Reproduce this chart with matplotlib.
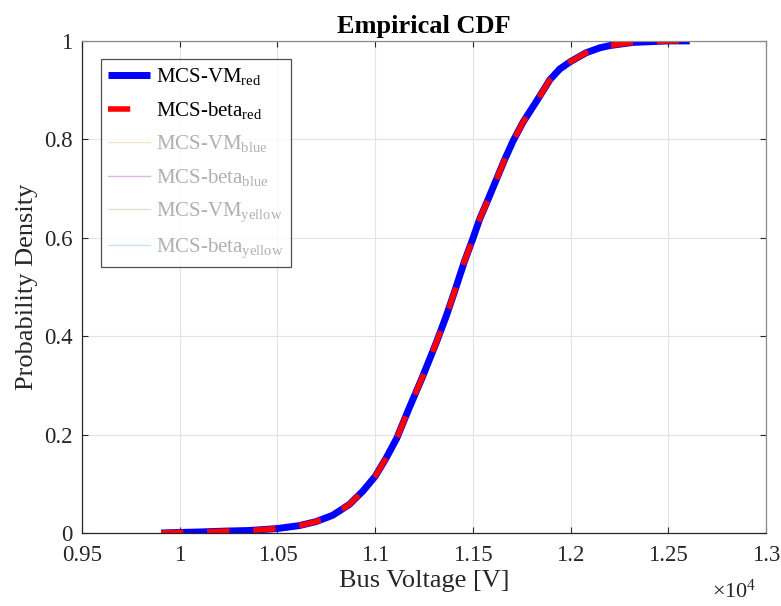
import matplotlib
matplotlib.use("Agg")
import matplotlib.pyplot as plt
from matplotlib.ticker import FuncFormatter

SERIF = "Liberation Serif"
plt.rcParams["font.family"] = [SERIF, "DejaVu Serif"]
plt.rcParams["mathtext.fontset"] = "custom"
plt.rcParams["mathtext.rm"] = SERIF
plt.rcParams["mathtext.it"] = SERIF + ":italic"

# empirical CDF (bus voltage in volts)
voltage = [9905, 10000, 10100, 10250, 10355, 10500, 10612, 10697, 10783, 10868,
           10937, 11000, 11056, 11110, 11170, 11240, 11312, 11363, 11406, 11457,
           11500, 11534, 11577, 11620, 11663, 11705, 11757, 11817, 11863, 11894,
           11945, 12000, 12080, 12150, 12200, 12320, 12500, 12610]
cdf = [0.0, 0.001, 0.002, 0.004, 0.005, 0.009, 0.015, 0.023, 0.036, 0.058,
       0.085, 0.115, 0.152, 0.192, 0.250, 0.315, 0.386, 0.44, 0.49, 0.552,
       0.598, 0.637, 0.677, 0.718, 0.759, 0.796, 0.835, 0.872, 0.901, 0.921,
       0.943, 0.958, 0.976, 0.986, 0.9905, 0.997, 1.0, 1.0]

labels = ["MCS-VM$_{\\rm red}$", "MCS-beta$_{\\rm red}$",
          "MCS-VM$_{\\rm blue}$", "MCS-beta$_{\\rm blue}$",
          "MCS-VM$_{\\rm yellow}$", "MCS-beta$_{\\rm yellow}$"]
faint_colors = ["#f3e6c8", "#dcb8e0", "#d9e4c8", "#c6e6f5"]
xticks = [9500, 10000, 10500, 11000, 11500, 12000, 12500, 13000]
yticks = [0, 0.2, 0.4, 0.6, 0.8, 1]

INK = "#262626"
GRID = "#e3e3e3"

fig = plt.figure(figsize=(7.81, 6.06), dpi=100)
ax = fig.add_axes([0.105, 0.1205, 0.8758, 0.812])

ax.plot(voltage, cdf, color="#0000ff", linewidth=5.0, label=labels[0],
        solid_joinstyle="round", solid_capstyle="butt")
ax.plot(voltage, cdf, color="#ff0000", linewidth=4.0, dashes=(4.0, 4.3),
        dash_capstyle="butt", label=labels[1])
# the blue/yellow runs only show up in the legend
for lab, col in zip(labels[2:], faint_colors):
    ax.plot([], [], color=col, linewidth=1.0, label=lab)

ax.set_xlim(xticks[0], xticks[-1])
ax.set_ylim(0, 1)
ax.set_xticks(xticks)
ax.set_yticks(yticks)
ax.xaxis.set_major_formatter(FuncFormatter(lambda v, p: f"{v / 1e4:g}"))
ax.yaxis.set_major_formatter(FuncFormatter(lambda v, p: f"{v:g}"))
fig.text(0.968, 0.014, r"$\times$10$^4$", ha="right", va="baseline",
         fontsize=16, color=INK)

ax.grid(True, color=GRID, linewidth=0.8)
ax.set_axisbelow(True)
ax.tick_params(direction="in", length=4.5, width=0.8, top=True, right=True,
               labelsize=16.5, colors=INK)
ax.tick_params(axis="x", pad=8.5)
ax.tick_params(axis="y", pad=7)
for side in ("left", "bottom"):
    ax.spines[side].set_color(INK)
for side in ("top", "right"):
    ax.spines[side].set_color("#8c8c8c")
for sp in ax.spines.values():
    sp.set_linewidth(0.9)

ax.set_xlabel("Bus Voltage [V]", fontsize=19, color=INK, labelpad=3)
ax.set_ylabel("Probability Density", fontsize=19, color=INK, labelpad=4)
ax.set_title("Empirical CDF", fontsize=19, fontweight="bold", color="black", pad=6)

leg = ax.legend(loc="upper left", bbox_to_anchor=(0.0278, 0.963), borderaxespad=0,
                fontsize=15, frameon=True, fancybox=False, edgecolor=INK,
                handlelength=2.0, labelspacing=0.6, borderpad=0.35,
                handletextpad=0.3)
leg.get_frame().set_linewidth(0.9)
for i, txt in enumerate(leg.get_texts()):
    txt.set_color("black" if i < 2 else "#b0b0b0")

fig.savefig("out.png", dpi=100, facecolor="white")
